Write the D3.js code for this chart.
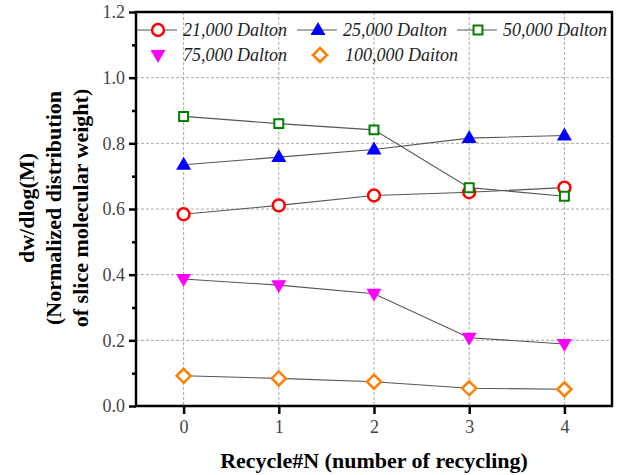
<!DOCTYPE html>
<html>
<head>
<meta charset="utf-8">
<script src="https://cdn.jsdelivr.net/npm/d3@7"></script>
<style>
  body { margin: 0; background: #fff; }
  svg text { font-family: "Liberation Serif", "Tinos", "Times New Roman", "DejaVu Serif", serif !important; }
</style>
</head>
<body>
<div id="chart"></div>
<script>
// data
const recycles = [0, 1, 2, 3, 4];
const seriesNames = ["21,000 Dalton", "25,000 Dalton", "50,000 Dalton", "75,000 Dalton", "100,000 Daiton"];
const d21k = [0.584, 0.611, 0.641, 0.651, 0.665];
const d25k = [0.735, 0.758, 0.781, 0.816, 0.824];
const d50k = [0.882, 0.860, 0.841, 0.665, 0.639];
const d75k = [0.387, 0.368, 0.342, 0.208, 0.189];
const d100k = [0.092, 0.084, 0.074, 0.054, 0.051];
const yTicks = [0, 0.2, 0.4, 0.6, 0.8, 1.0, 1.2];

const series = [
    { name: seriesNames[0], values: d21k, color: "#ff0000", shape: "circle" },
    { name: seriesNames[1], values: d25k, color: "#0000ff", shape: "up" },
    { name: seriesNames[2], values: d50k, color: "#008000", shape: "square" },
    { name: seriesNames[3], values: d75k, color: "#ff00ff", shape: "down" },
    { name: seriesNames[4], values: d100k, color: "#ff8000", shape: "diamond" }
];

const W = 617, H = 475;
const margin = { top: 12, right: 5, bottom: 69, left: 136 };
const width = W - margin.left - margin.right;
const height = H - margin.top - margin.bottom;

const svg = d3.select("#chart").append("svg")
    .attr("width", W)
    .attr("height", H);

const g = svg.append("g")
    .attr("transform", `translate(${margin.left},${margin.top})`);

const x = d3.scaleLinear().domain([-0.5, 4.5]).range([0, width]);
const y = d3.scaleLinear().domain([0, 1.2]).range([height, 0]);

// grid
g.append("g").selectAll("line")
    .data(yTicks.filter(d => d > 0 && d < 1.2))
    .join("line")
    .attr("x1", 0).attr("x2", width)
    .attr("y1", d => y(d)).attr("y2", d => y(d))
    .attr("stroke", "#aaa").attr("stroke-width", 1).attr("stroke-dasharray", "3,2");
g.append("g").selectAll("line")
    .data(recycles)
    .join("line")
    .attr("x1", d => x(d)).attr("x2", d => x(d))
    .attr("y1", 0).attr("y2", height)
    .attr("stroke", "#aaa").attr("stroke-width", 1).attr("stroke-dasharray", "3,2");

// markers
function markerPath(shape) {
    if (shape === "circle") return d3.symbol(d3.symbolCircle, 110)();
    if (shape === "square") return d3.symbol(d3.symbolSquare, 80)();
    if (shape === "diamond") return "M0,-7L7,0L0,7L-7,0Z";
    if (shape === "up") return "M0,-8L7.5,5L-7.5,5Z";
    if (shape === "down") return "M0,8L7.5,-5L-7.5,-5Z";
}
function drawMarker(sel, s) {
    const filled = s.shape === "up" || s.shape === "down";
    sel.attr("d", markerPath(s.shape))
        .attr("fill", filled ? s.color : "#fff")
        .attr("stroke", filled ? "none" : s.color)
        .attr("stroke-width", s.shape === "square" ? 2 : 2.5);
}

const line = d3.line().x((d, i) => x(recycles[i])).y(d => y(d));

series.forEach(s => {
    g.append("path")
        .attr("d", line(s.values))
        .attr("fill", "none")
        .attr("stroke", "#555")
        .attr("stroke-width", 1.1);
});
series.forEach(s => {
    g.append("g").selectAll("path")
        .data(s.values)
        .join("path")
        .attr("transform", (d, i) => `translate(${x(recycles[i])},${y(d)})`)
        .call(sel => drawMarker(sel, s));
});

// axes
g.append("g")
    .call(d3.axisLeft(y).tickValues(yTicks).tickFormat(d3.format(".1f")).tickSize(7).tickPadding(4));
g.append("g")
    .call(d3.axisLeft(y).tickValues(d3.range(0.1, 1.2, 0.2)).tickFormat("").tickSize(4));
g.append("g")
    .attr("transform", `translate(0,${height})`)
    .call(d3.axisBottom(x).tickValues(recycles).tickFormat(d3.format("d")).tickSize(8).tickPadding(6));

g.selectAll(".domain").remove();
g.selectAll(".tick line").attr("stroke", "#000").attr("stroke-width", 2.5);
g.selectAll(".tick text")
    .attr("fill", "#444")
    .style("font-size", "18px");

// frame
g.append("rect")
    .attr("x", 0).attr("y", 0)
    .attr("width", width).attr("height", height)
    .attr("fill", "none").attr("stroke", "#000").attr("stroke-width", 2.5);

// legend
const legendPos = [
    { x: 22, y: 18, line: true },
    { x: 182, y: 18, line: true },
    { x: 342, y: 18, line: true },
    { x: 22, y: 43, line: false },
    { x: 184, y: 43, line: false }
];
series.forEach((s, i) => {
    const p = legendPos[i];
    const lg = g.append("g").attr("transform", `translate(${p.x},${p.y})`);
    if (p.line) {
        lg.append("line").attr("x1", -21).attr("x2", 19).attr("y1", 0).attr("y2", 0)
            .attr("stroke", "#555").attr("stroke-width", 1.1);
    }
    lg.append("path").call(sel => drawMarker(sel, s));
    lg.append("text")
        .attr("x", 25).attr("y", 6)
        .style("font-size", "18px")
        .style("font-style", "italic")
        .attr("fill", "#222")
        .text(s.name);
});

// axis titles
svg.append("text")
    .attr("x", margin.left + width / 2)
    .attr("y", 468)
    .attr("text-anchor", "middle")
    .style("font-size", "22px")
    .style("font-weight", "bold")
    .text("Recycle#N (number of recycling)");

const yTitle = svg.append("text")
    .attr("transform", `translate(0,208) rotate(-90)`)
    .attr("text-anchor", "middle")
    .style("font-size", "22px")
    .style("font-weight", "bold");
["dw/dlog(M)", "(Normalized distribution", "of slice molecular weight)"].forEach((t, i) => {
    yTitle.append("tspan").attr("x", 0).attr("y", 34 + i * 27).text(t);
});
</script>
</body>
</html>
